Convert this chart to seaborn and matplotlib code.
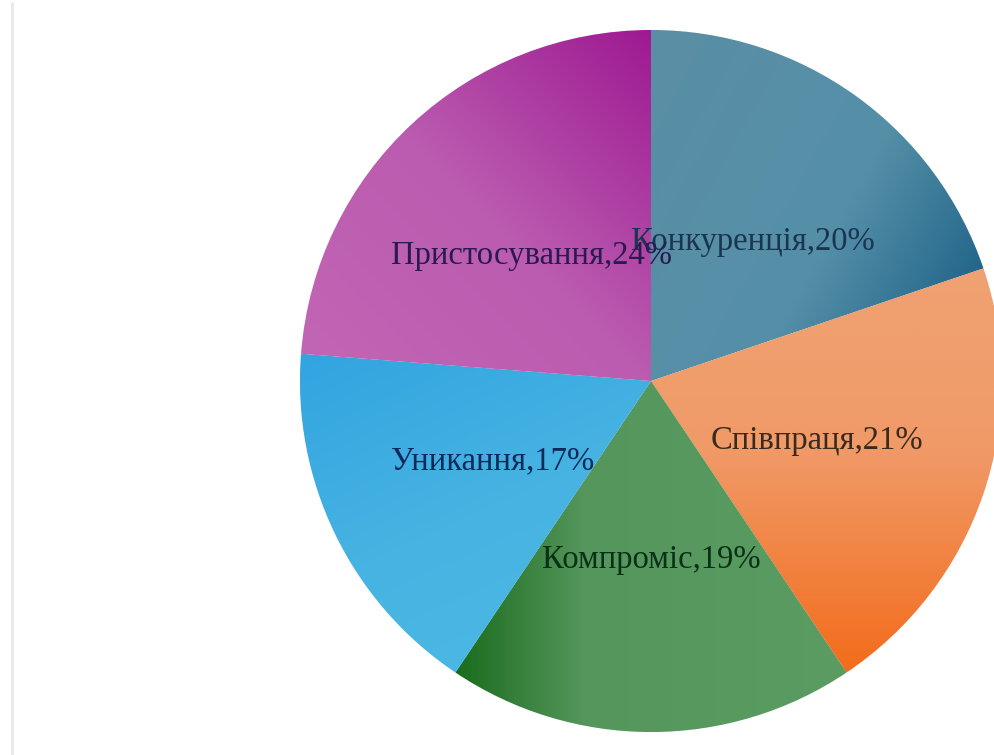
import numpy as np
import matplotlib
matplotlib.use("Agg")
import matplotlib.pyplot as plt
import seaborn as sns
from matplotlib.colors import LinearSegmentedColormap, to_rgb
from matplotlib.lines import Line2D

# ---- data ----
categories = ["Конкуренція", "Співпраця", "Компроміс", "Уникання", "Пристосування"]
values = [20, 21, 19, 17, 24]
base_colors = ["#5590a8", "#f09a68", "#55965c", "#45b2e2", "#bc5fb1"]
gradient_stops = [
    [(0.0, "#5a8ea5"), (0.55, "#5590a8"), (1.0, "#125780")],
    [(0.0, "#f0a272"), (0.45, "#f09a68"), (1.0, "#f36c1c")],
    [(0.0, "#1a6c1e"), (0.33, "#55965c"), (1.0, "#5a9c62")],
    [(0.0, "#32a4e0"), (0.5, "#46b3e2"), (1.0, "#4cb9e4")],
    [(0.0, "#c266b4"), (0.5, "#bb5cb0"), (1.0, "#9e1a92")],
]
gradient_dirs = [(1.0, -0.55), (0.0, -1.0), (1.0, 0.0), (0.45, -1.0), (1.0, 1.0)]
label_colors = ["#1a3550", "#3a2a1e", "#0a3018", "#0a2a5a", "#2a1a50"]

labels = [f"{c},{v}%" for c, v in zip(categories, values)]

sns.set_theme(style="white")
plt.rcParams["font.family"] = ["Liberation Serif", "DejaVu Serif"]

W, H = 994, 755
fig = plt.figure(figsize=(W / 100, H / 100), dpi=100)
ax = fig.add_axes([0, 0, 1, 1])

wedges, texts = ax.pie(
    values,
    labels=labels,
    colors=sns.color_palette(base_colors),
    startangle=90,
    counterclock=False,
    center=(651, H - 381),
    radius=351,
    labeldistance=0.5,
    wedgeprops=dict(edgecolor="white", linewidth=0.6),
    textprops=dict(fontsize=23.5),
    frame=True,
)
ax.set_xlim(0, W)
ax.set_ylim(0, H)
ax.set_aspect("equal")
ax.axis("off")

for w, stops, d in zip(wedges, gradient_stops, gradient_dirs):
    ext = w.get_path().get_extents()
    x0, y0, x1, y1 = ext.x0, ext.y0, ext.x1, ext.y1
    n = 300
    X, Y = np.meshgrid(np.linspace(x0, x1, n), np.linspace(y0, y1, n))
    ux, uy = d
    proj = X * ux + Y * uy
    t = (proj - proj.min()) / (proj.max() - proj.min())
    cmap = LinearSegmentedColormap.from_list("g", [(p, to_rgb(c)) for p, c in stops])
    img = cmap(t)
    im = ax.imshow(img, extent=[x0, x1, y0, y1], origin="lower",
                   interpolation="bilinear", zorder=w.get_zorder() + 0.1, aspect="auto")
    im.set_clip_path(w)

for t, c in zip(texts, label_colors):
    t.set_ha("center")
    t.set_va("center_baseline")
    t.set_color(c)
    t.set_zorder(10)

ax.set_xlim(0, W)
ax.set_ylim(0, H)
fig.add_artist(Line2D([12 / W, 12 / W], [0, 1 - 3 / H], transform=fig.transFigure,
                      color="#e8e8e8", linewidth=2))

fig.savefig("out.png", dpi=100, facecolor="white")
